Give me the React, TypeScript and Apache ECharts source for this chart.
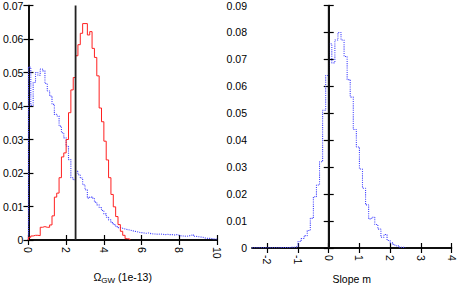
import React, { useEffect, useRef } from "react";
import * as echarts from "echarts";

// Left panel: Omega_GW histograms (bin width 0.125 starting at 0)
const omegaBinStart = 0;
const omegaBinWidth = 0.125;
const omegaRed = [
  0.0008, 0.0012, 0.0014, 0.0014, 0.0013, 0.0038, 0.004, 0.0038, 0.0038, 0.0045,
  0.0072, 0.0128, 0.014, 0.0186, 0.0248, 0.026, 0.03, 0.038, 0.0448, 0.0485,
  0.055, 0.0583, 0.0617, 0.0646, 0.0646, 0.0612, 0.0622, 0.0572, 0.0545, 0.049,
  0.0394, 0.0353, 0.0295, 0.0239, 0.0186, 0.0136, 0.0099, 0.007, 0.0046, 0.0026,
  0.0014, 0.0004, 0.0003,
];
const omegaBlue = [
  0.0516, 0.0402, 0.047, 0.05, 0.0492, 0.051, 0.0505, 0.0467, 0.0445, 0.043,
  0.0405, 0.0375, 0.037, 0.034, 0.032, 0.0305, 0.028, 0.024, 0.0186, 0.018,
  0.0205, 0.0195, 0.0185, 0.0165, 0.015, 0.0125, 0.0128, 0.0125, 0.0113, 0.0105,
  0.0097, 0.0088, 0.0078, 0.0068, 0.006, 0.0052, 0.0046, 0.004, 0.0037, 0.0035,
  0.0033, 0.0031, 0.003, 0.0028, 0.0026, 0.0025, 0.0023, 0.0022, 0.0021, 0.002,
  0.0021, 0.0019, 0.0018, 0.0018, 0.0017, 0.0018, 0.0017, 0.0016, 0.0017, 0.0016,
  0.0016, 0.0015, 0.0016, 0.0014, 0.0012, 0.0012, 0.0011, 0.0012, 0.0014, 0.0016,
  0.0011, 0.001, 0.0009, 0.0008, 0.0006, 0.0005, 0.0005, 0.0004, 0.0003, 0.0003,
];
const omegaMarker = 2.5;

// Right panel: slope m histogram (bin width 0.1 starting at -2.5)
const slopeBinStart = -2.5;
const slopeBinWidth = 0.1;
const slopeBlue = [
  0.0001, 0.0001, 0.0001, 0.0001, 0.0001, 0.0001, 0.0001, 0.0001,
  0.0001, 0.0002, 0.0002, 0.0001, 0.0003, 0.0003,
  0.0005, 0.0024, 0.0035, 0.0046, 0.0065, 0.011, 0.019, 0.0234, 0.032, 0.0511,
  0.064, 0.0758, 0.0687, 0.0772, 0.08, 0.0772, 0.0711, 0.0625, 0.056, 0.044,
  0.0375, 0.0293, 0.0222, 0.016, 0.0108, 0.0114, 0.0087, 0.007, 0.004, 0.005,
  0.0028, 0.0019, 0.0011, 0.0008, 0.0003, 0.0002,
];
const slopeMarker = 0;
const slopeTicks = [-2, -1, 0, 1, 2, 3, 4];

const FONT = "'Liberation Sans', Arial, Helvetica, sans-serif";

function histPoints(start: number, width: number, vals: number[]) {
  const pts: number[][] = [[start, 0]];
  vals.forEach((v, i) => pts.push([start + i * width, v]));
  pts.push([start + vals.length * width, 0]);
  return pts;
}

export default function App() {
  const ref = useRef<HTMLDivElement>(null);
  useEffect(() => {
    document.body.style.margin = "0";
    const chart = echarts.init(ref.current!, null, { renderer: "svg" });
    const axisLine = { show: true, lineStyle: { color: "#000", width: 1.5 } };
    const tick = { show: true, inside: true, length: 5, lineStyle: { color: "#000", width: 1.2 } };
    const yLabel = { fontSize: 10.5, color: "#000", fontFamily: FONT, margin: 5 };
    const xLabel = { fontSize: 10.5, color: "#000", fontFamily: FONT, rotate: -90, margin: 7 };

    const option: any = {
      animation: false,
      backgroundColor: "#fff",
      grid: [
        { left: 28, right: 240, top: 3, bottom: 45 },
        { left: 252, right: 3, top: 3, bottom: 31 },
      ],
      xAxis: [
        {
          type: "value", gridIndex: 0, min: 0, max: 10, interval: 2, position: "bottom",
          axisLine, axisTick: tick, splitLine: { show: false },
          axisLabel: xLabel,
          name: "{a|Ω}{s|GW}{a| (1e-13)}",
          nameLocation: "middle", nameGap: 29,
          nameTextStyle: {
            color: "#000", fontFamily: FONT,
            rich: {
              a: { fontSize: 10.5, fontFamily: FONT, color: "#000" },
              s: { fontSize: 8, fontFamily: FONT, color: "#000", padding: [7, 0, 0, 0] },
            },
          },
        },
        {
          type: "value", gridIndex: 0, min: 0, max: 10, interval: 2, position: "top",
          axisLine, axisTick: tick, splitLine: { show: false }, axisLabel: { show: false },
        },
        {
          type: "value", gridIndex: 1, min: -2.5, max: 4, position: "bottom",
          axisLine,
          axisTick: { ...tick, customValues: slopeTicks },
          splitLine: { show: false },
          axisLabel: { ...xLabel, customValues: slopeTicks },
          name: "Slope m", nameLocation: "middle", nameGap: 25,
          nameTextStyle: { fontSize: 10.5, color: "#000", fontFamily: FONT },
        },
        {
          type: "value", gridIndex: 1, min: -2.5, max: 4, position: "top",
          axisLine,
          axisTick: { ...tick, customValues: slopeTicks },
          splitLine: { show: false }, axisLabel: { show: false },
        },
      ],
      yAxis: [
        {
          type: "value", gridIndex: 0, min: 0, max: 0.07, interval: 0.01, position: "left",
          axisLine, axisTick: tick, splitLine: { show: false }, axisLabel: yLabel,
        },
        {
          type: "value", gridIndex: 0, min: 0, max: 0.07, interval: 0.01, position: "right",
          axisLine, axisTick: tick, splitLine: { show: false }, axisLabel: { show: false },
        },
        {
          type: "value", gridIndex: 1, min: 0, max: 0.09, interval: 0.01, position: "left",
          axisLine, axisTick: tick, splitLine: { show: false }, axisLabel: yLabel,
        },
        {
          type: "value", gridIndex: 1, min: 0, max: 0.09, interval: 0.01, position: "right",
          axisLine, axisTick: tick, splitLine: { show: false }, axisLabel: { show: false },
        },
      ],
      series: [
        {
          type: "line", xAxisIndex: 0, yAxisIndex: 0, step: "end", showSymbol: false,
          data: histPoints(omegaBinStart, omegaBinWidth, omegaBlue),
          lineStyle: { color: "#4545ff", width: 1.1, type: "dotted" },
          z: 2,
        },
        {
          type: "line", xAxisIndex: 0, yAxisIndex: 0, step: "end", showSymbol: false,
          data: histPoints(omegaBinStart, omegaBinWidth, omegaRed),
          lineStyle: { color: "#ff2020", width: 1 },
          z: 3,
        },
        {
          type: "line", xAxisIndex: 0, yAxisIndex: 0, showSymbol: false,
          data: [[omegaMarker, 0], [omegaMarker, 0.07]],
          lineStyle: { color: "#222", width: 1.8 },
          z: 4,
        },
        {
          type: "line", xAxisIndex: 2, yAxisIndex: 2, step: "end", showSymbol: false,
          data: histPoints(slopeBinStart, slopeBinWidth, slopeBlue),
          lineStyle: { color: "#4545ff", width: 1.1, type: "dotted" },
          z: 2,
        },
        {
          type: "line", xAxisIndex: 2, yAxisIndex: 2, showSymbol: false,
          data: [[slopeMarker, 0], [slopeMarker, 0.09]],
          lineStyle: { color: "#111", width: 1.8 },
          z: 4,
        },
      ],
    };
    chart.setOption(option);
    return () => chart.dispose();
  }, []);
  return <div ref={ref} style={{ width: 457, height: 289 }} />;
}
